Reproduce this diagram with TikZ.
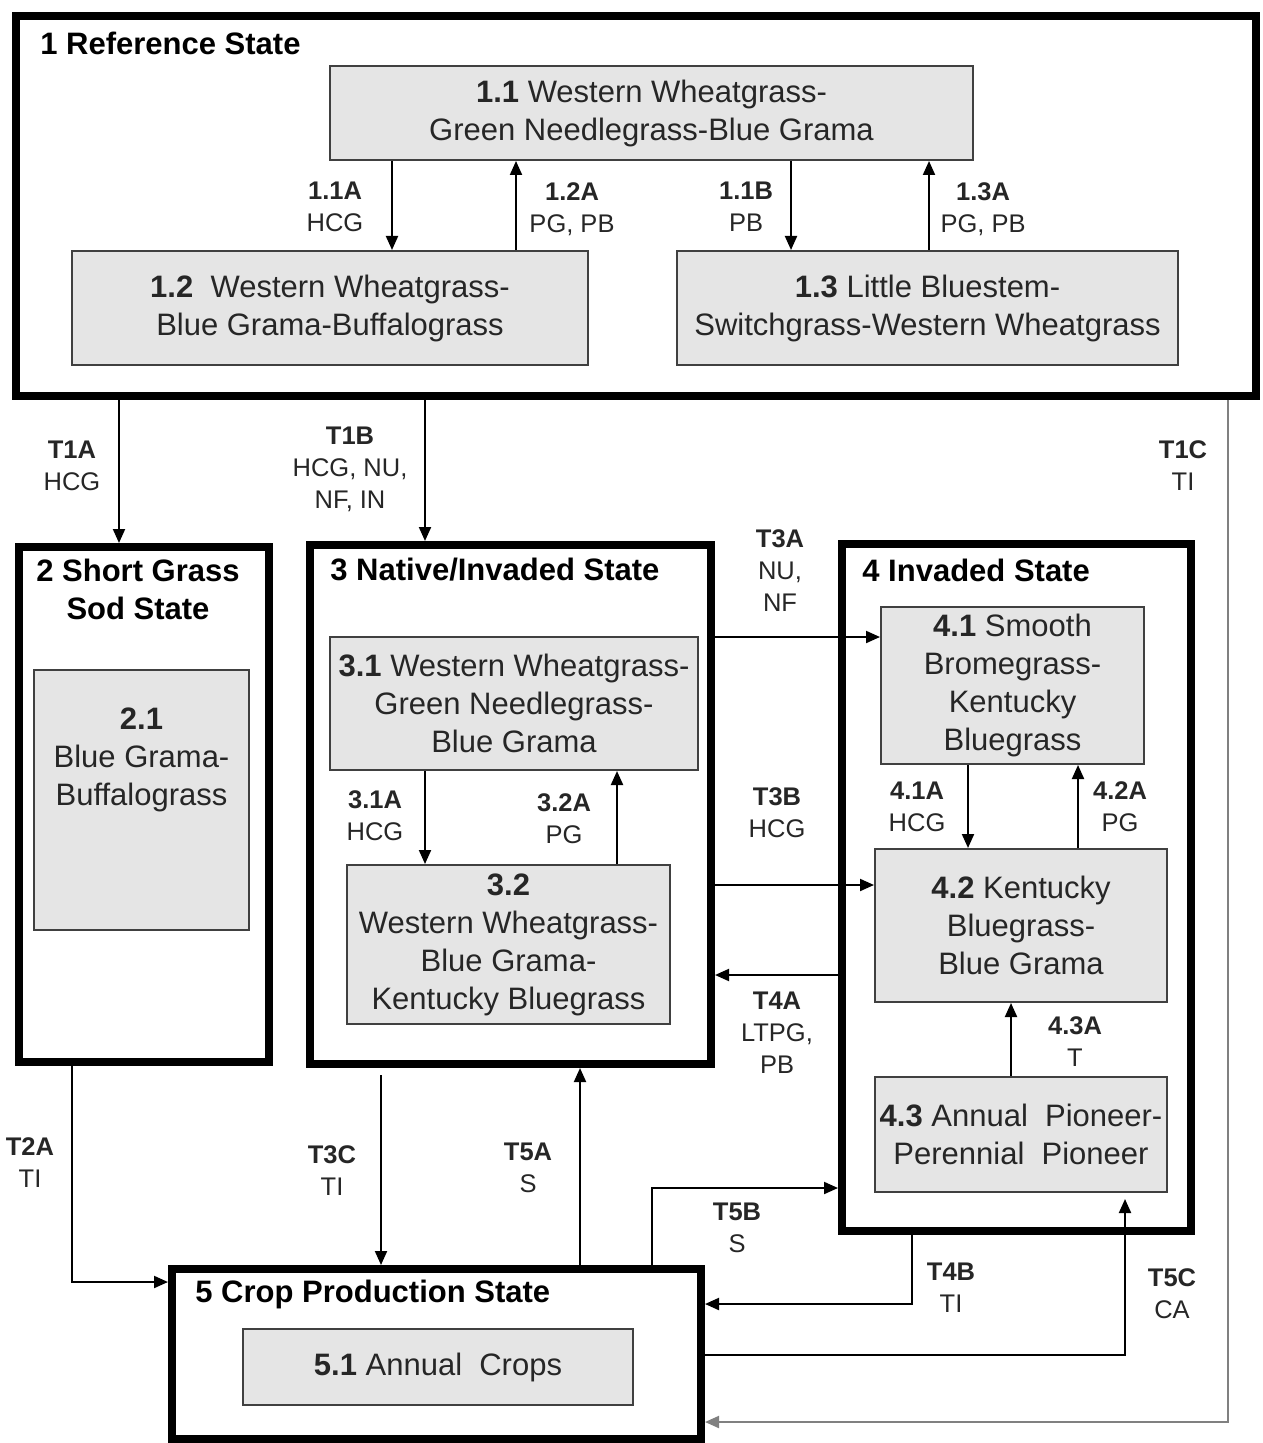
\documentclass[tikz,border=0pt]{standalone}
\usepackage{fontspec}
\setmainfont{Liberation Sans}
\usetikzlibrary{arrows.meta}

\begin{document}
\begin{tikzpicture}[x=0.5pt, y=-0.5pt, >={Triangle[length=7pt,width=6pt]},
	statebox/.style={draw, line width=4pt, inner sep=0pt},
	subbox/.style={draw=black!75, line width=1pt, fill=gray!20, align=center,
		inner sep=2pt, text=black!85, font=\fontsize{15.5}{19}\selectfont},
	boxtext/.style={align=center, inner sep=0pt, text=black!85, font=\fontsize{15.5}{19}\selectfont},
	title/.style={inner sep=0pt, font=\fontsize{15.5}{19}\selectfont\bfseries},
	lbl/.style={align=center, inner sep=0pt, text=black!85, font=\fontsize{12.75}{16}\selectfont},
	conn/.style={->, line width=1pt}]
	\useasboundingbox (0,0) rectangle (1262,1443);

	% states
	\node[statebox, minimum width=620pt, minimum height=190pt]   (s1) at (636,206) {};
	\node[statebox, minimum width=125pt, minimum height=257.5pt] (s2) at (144,804.5) {};
	\node[statebox, minimum width=200.5pt, minimum height=259.5pt] (s3) at (510.5,804.5) {};
	\node[statebox, minimum width=174.5pt, minimum height=343.5pt] (s4) at (1016.5,887.5) {};
	\node[statebox, minimum width=264.5pt, minimum height=85pt]  (s5) at (436.5,1354) {};

	\node[title, anchor=west]  (t1) at (40,43)   {1 Reference State};
	\node[title, align=center] (t2) at (138,589) {2 Short Grass\\Sod State};
	\node[title, anchor=west]  (t3) at (330,570) {3 Native/Invaded State};
	\node[title, anchor=west]  (t4) at (862,570) {4 Invaded State};
	\node[title, anchor=west]  (t5) at (195,1294) {5 Crop Production State};

	% communities
	\node[subbox, minimum width=321.5pt, minimum height=47pt] (b11) at (651.5,113)
		{\textbf{1.1} Western Wheatgrass-\\Green Needlegrass-Blue Grama};
	\node[subbox, minimum width=258pt, minimum height=57pt]   (b12) at (330,308)
		{\textbf{1.2}\ \ Western Wheatgrass-\\Blue Grama-Buffalograss};
	\node[subbox, minimum width=250.5pt, minimum height=57pt] (b13) at (927.5,308)
		{\textbf{1.3} Little Bluestem-\\Switchgrass-Western Wheatgrass};
	\node[subbox, minimum width=107.5pt, minimum height=130pt] (b21) at (141.5,800) {};
	\node[boxtext] (x21) at (141.5,760) {\textbf{2.1}\\Blue Grama-\\Buffalograss};
	\node[subbox, minimum width=184pt, minimum height=66.5pt] (b31) at (514,703.5)
		{\textbf{3.1} Western Wheatgrass-\\Green Needlegrass-\\Blue Grama};
	\node[subbox, minimum width=161.5pt, minimum height=79.5pt] (b32) at (508.5,944.5)
		{\textbf{3.2}\\Western Wheatgrass-\\Blue Grama-\\Kentucky Bluegrass};
	\node[subbox, minimum width=131.5pt, minimum height=78.5pt] (b41) at (1012.5,685.5)
		{\textbf{4.1} Smooth\\Bromegrass-\\Kentucky\\Bluegrass};
	\node[subbox, minimum width=146pt, minimum height=76.5pt] (b42) at (1021,925.5)
		{\textbf{4.2} Kentucky\\Bluegrass-\\Blue Grama};
	\node[subbox, minimum width=146pt, minimum height=57.5pt] (b43) at (1021,1134.5)
		{\textbf{4.3} Annual\ \ Pioneer-\\Perennial\ \ Pioneer};
	\node[subbox, minimum width=195pt, minimum height=38pt] (b51) at (438,1367)
		{\textbf{5.1} Annual\ \ Crops};

	% pathways within states
	\draw[conn] (392,0 |- b11.south) -- (392,0 |- b12.north);
	\draw[conn] (516,0 |- b12.north) -- (516,0 |- b11.south);
	\draw[conn] (791,0 |- b11.south) -- (791,0 |- b13.north);
	\draw[conn] (929,0 |- b13.north) -- (929,0 |- b11.south);
	\draw[conn] (425,0 |- b31.south) -- (425,0 |- b32.north);
	\draw[conn] (617,0 |- b32.north) -- (617,0 |- b31.south);
	\draw[conn] (968,0 |- b41.south) -- (968,0 |- b42.north);
	\draw[conn] (1078,0 |- b42.north) -- (1078,0 |- b41.south);
	\draw[conn] (1011,0 |- b43.north) -- (1011,0 |- b42.south);

	\node[lbl] (l11A) at (335,207)  {\textbf{1.1A}\\HCG};
	\node[lbl] (l12A) at (572,209)  {\textbf{1.2A}\\PG, PB};
	\node[lbl] (l11B) at (746,207)  {\textbf{1.1B}\\PB};
	\node[lbl] (l13A) at (983,209)  {\textbf{1.3A}\\PG, PB};
	\node[lbl] (l31A) at (375,816)  {\textbf{3.1A}\\HCG};
	\node[lbl] (l32A) at (564,819)  {\textbf{3.2A}\\PG};
	\node[lbl] (l41A) at (917,807)  {\textbf{4.1A}\\HCG};
	\node[lbl] (l42A) at (1120,807) {\textbf{4.2A}\\PG};
	\node[lbl] (l43A) at (1075,1042) {\textbf{4.3A}\\T};

	% transitions between states
	\draw[conn] (119,0 |- s1.south) -- (119,0 |- s2.north);
	\draw[conn] (425,0 |- s1.south) -- (425,0 |- s3.north);
	\draw[conn, black!50] (1228,0 |- s1.south) |- (s5.east |- 0,1422);
	\draw[conn] (s3.east |- 0,637) -- (b41.west |- 0,637);
	\draw[conn] (s3.east |- 0,885) -- (b42.west |- 0,885);
	\draw[conn] (s4.west |- 0,975) -- (s3.east |- 0,975);
	\draw[conn] (72,0 |- s2.south) |- (s5.west |- 0,1282);
	\draw[conn, shorten <=3.5pt] (381,0 |- s3.south) -- (381,0 |- s5.north);
	\draw[conn] (580,0 |- s5.north) -- (580,0 |- s3.south);
	\draw[conn] (652,0 |- s5.north) |- (s4.west |- 0,1188);
	\draw[conn] (912,0 |- s4.south) |- (s5.east |- 0,1304);
	\draw[conn, shorten >=3pt] (s5.east |- 0,1355) -| (1125,0 |- b43.south);

	\node[lbl] (lT1A) at (72,466)   {\textbf{T1A}\\HCG};
	\node[lbl] (lT1B) at (350,469)  {\textbf{T1B}\\HCG, NU,\\NF, IN};
	\node[lbl] (lT1C) at (1183,466) {\textbf{T1C}\\TI};
	\node[lbl] (lT3A) at (780,571)  {\textbf{T3A}\\NU,\\NF};
	\node[lbl] (lT3B) at (777,813)  {\textbf{T3B}\\HCG};
	\node[lbl] (lT4A) at (777,1033) {\textbf{T4A}\\LTPG,\\PB};
	\node[lbl] (lT2A) at (30,1163)  {\textbf{T2A}\\TI};
	\node[lbl] (lT3C) at (332,1171) {\textbf{T3C}\\TI};
	\node[lbl] (lT5A) at (528,1168) {\textbf{T5A}\\S};
	\node[lbl] (lT5B) at (737,1228) {\textbf{T5B}\\S};
	\node[lbl] (lT4B) at (951,1288) {\textbf{T4B}\\TI};
	\node[lbl] (lT5C) at (1172,1294) {\textbf{T5C}\\CA};
\end{tikzpicture}
\end{document}
